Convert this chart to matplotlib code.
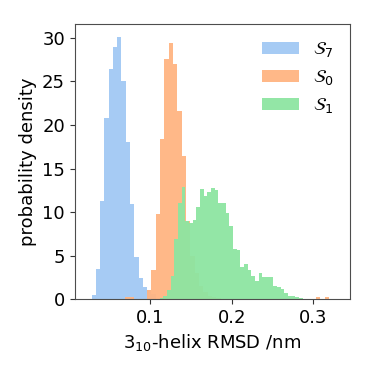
import numpy as np
import matplotlib
matplotlib.use("Agg")
import matplotlib.pyplot as plt

# histogram densities (bin start, bin width, heights)
s7_start, s7_width = 0.0276, 0.00525
s7_dens = [0.5, 3.5, 11.3, 20.8, 26.4, 29.0, 30.1, 25.1, 18.0, 10.9,
           4.9, 2.4, 1.4, 1.0, 0.6]

s0_start, s0_width = 0.0638, 0.00533
s0_dens = [0.0, 0.2, 0.2, 0.0, 0.0, 0.0, 1.1, 3.4, 9.8, 18.4,
           27.6, 29.4, 27.0, 21.6, 16.4, 9.0, 5.0, 3.0, 1.5, 0.8,
           0.4, 0.2, 0.1, 0.0, 0.0, 0.0, 0.0, 0.0, 0.0, 0.0,
           0.0, 0.0, 0.0, 0.0, 0.0, 0.0, 0.0, 0.0, 0.0, 0.0,
           0.0, 0.0, 0.0, 0.0, 0.0, 0.2, 0.0, 0.2, 0.0, 0.0]

s1_start, s1_width = 0.1114, 0.00451
s1_dens = [0.15, 0.4, 1.1, 2.7, 6.9, 11.1, 12.9, 9.0, 8.7, 9.1,
           10.6, 12.6, 11.9, 12.3, 12.8, 12.5, 11.0, 11.0, 9.9, 8.4,
           5.8, 5.6, 3.7, 4.0, 3.3, 2.7, 2.1, 3.0, 2.5, 2.5,
           2.5, 1.5, 1.4, 1.2, 0.7, 0.4, 0.4, 0.2, 0.1, 0.08]

labels = [r"$\mathcal{S}_7$", r"$\mathcal{S}_0$", r"$\mathcal{S}_1$"]
colors = ["#a1c9f4", "#ffb482", "#8de5a1"]

fig = plt.figure(figsize=(3.74, 3.74), dpi=100)
ax = fig.add_axes([0.2, 0.2, 0.736, 0.736])

series = [(s7_start, s7_width, s7_dens), (s0_start, s0_width, s0_dens),
          (s1_start, s1_width, s1_dens)]
for (start, w, dens), lab, col in zip(series, labels, colors):
    dens = np.array(dens)
    edges = start + w * np.arange(len(dens) + 1)
    centers = 0.5 * (edges[:-1] + edges[1:])
    ax.hist(centers, bins=edges, weights=dens, color=col, label=lab,
            alpha=0.95, linewidth=0)

ax.set_xlim(0.007, 0.3455)
ax.set_ylim(0, 31.6)
ax.set_xticks([0.1, 0.2, 0.3])
ax.set_yticks([0, 5, 10, 15, 20, 25, 30])
ax.tick_params(labelsize=13, color="0.2")
for sp in ax.spines.values():
    sp.set_color("0.3")
ax.set_xlabel(r"3$_{10}$-helix RMSD /nm", fontsize=13)
ax.set_ylabel("probability density", fontsize=13)
ax.legend(frameon=False, fontsize=13, loc="upper right")

fig.savefig("out.png", dpi=100)
